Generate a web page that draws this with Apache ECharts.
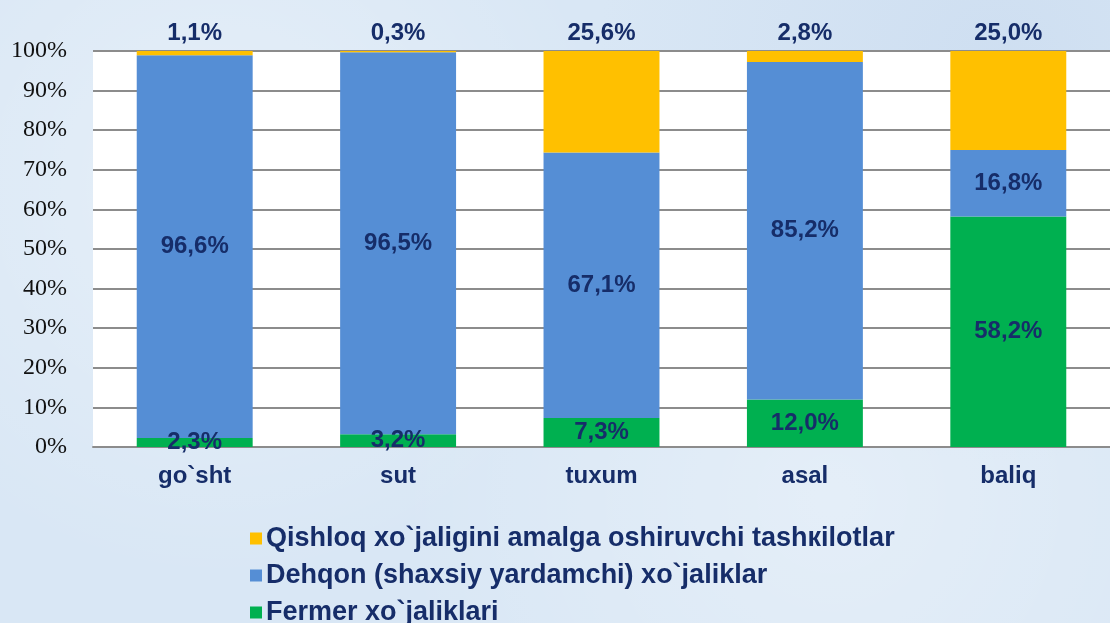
<!DOCTYPE html>
<html>
<head>
<meta charset="utf-8">
<script src="https://cdn.jsdelivr.net/npm/echarts@6/dist/echarts.min.js"></script>
<style>
  html, body {
    margin: 0;
    padding: 0;
    width: 1110px;
    height: 623px;
    overflow: hidden;
    background: #d9e7f5;
    background-image:
      radial-gradient(circle at 20% 30%, rgba(255,255,255,0.35), rgba(255,255,255,0) 40%),
      radial-gradient(circle at 75% 80%, rgba(255,255,255,0.3), rgba(255,255,255,0) 45%),
      radial-gradient(circle at 90% 10%, rgba(190,210,235,0.4), rgba(190,210,235,0) 35%);
  }
  #chart {
    width: 1110px;
    height: 623px;
  }
</style>
</head>
<body>
<div id="chart"></div>
<script>
// категории и доли (%)
const categories = ['go`sht', 'sut', 'tuxum', 'asal', 'baliq']
const fermer = [2.3, 3.2, 7.3, 12.0, 58.2]
const dehqon = [96.6, 96.5, 67.1, 85.2, 16.8]
const qishloq = [1.1, 0.3, 25.6, 2.8, 25.0]
const yTicks = [0, 10, 20, 30, 40, 50, 60, 70, 80, 90, 100]

const seriesNames = [
  'Qishloq xo`jaligini amalga oshiruvchi tashкilotlar',
  'Dehqon (shaxsiy yardamchi) xo`jaliklar',
  'Fermer xo`jaliklari'
]

const labelColor = '#162d69'
const fmt = (p) => p.value.toFixed(1).replace('.', ',') + '%'

const labelStyle = {
  show: true,
  formatter: fmt,
  color: labelColor,
  fontFamily: 'Liberation Sans, Arial, sans-serif',
  fontWeight: 'bold',
  fontSize: 24
}

const chart = echarts.init(document.getElementById('chart'), null, {renderer: 'canvas'})

const option = {
  animation: false,
  grid: {
    left: 93,
    right: -10,
    top: 51,
    bottom: 176,
    show: true,
    backgroundColor: '#ffffff',
    borderWidth: 0
  },
  legend: {
    orient: 'vertical',
    left: 250,
    top: 525,
    height: 140,
    padding: 0,
    itemGap: 10,
    itemWidth: 12,
    itemHeight: 12,
    icon: 'rect',
    data: seriesNames,
    textStyle: {
      color: labelColor,
      fontFamily: 'Liberation Sans, Arial, sans-serif',
      fontWeight: 'bold',
      fontSize: 27,
      padding: [0, 0, 0, -1]
    }
  },
  xAxis: {
    type: 'category',
    data: categories,
    axisTick: {show: false},
    axisLine: {lineStyle: {color: '#8c8c8c', width: 2}},
    axisLabel: {
      margin: 17,
      color: labelColor,
      fontFamily: 'Liberation Sans, Arial, sans-serif',
      fontWeight: 'bold',
      fontSize: 24
    }
  },
  yAxis: {
    type: 'value',
    min: 0,
    max: 100,
    interval: 10,
    axisLine: {show: false},
    axisTick: {show: false},
    splitLine: {lineStyle: {color: '#8c8c8c', width: 2}},
    axisLabel: {
      margin: 26,
      color: '#111',
      fontFamily: 'Liberation Serif, Times New Roman, serif',
      fontSize: 24,
      formatter: (v) => yTicks.includes(v) ? v + '%' : ''
    }
  },
  series: [
    {
      name: seriesNames[2],
      type: 'bar',
      stack: 'total',
      barWidth: '57%',
      itemStyle: {color: '#00b050'},
      label: Object.assign({}, labelStyle, {position: 'inside'}),
      data: fermer
    },
    {
      name: seriesNames[1],
      type: 'bar',
      stack: 'total',
      itemStyle: {color: '#558ed5'},
      label: Object.assign({}, labelStyle, {position: 'inside'}),
      data: dehqon
    },
    {
      name: seriesNames[0],
      type: 'bar',
      stack: 'total',
      itemStyle: {color: '#ffc000'},
      label: Object.assign({}, labelStyle, {position: 'top', distance: 6}),
      data: qishloq
    }
  ]
}

chart.setOption(option)
</script>
</body>
</html>
